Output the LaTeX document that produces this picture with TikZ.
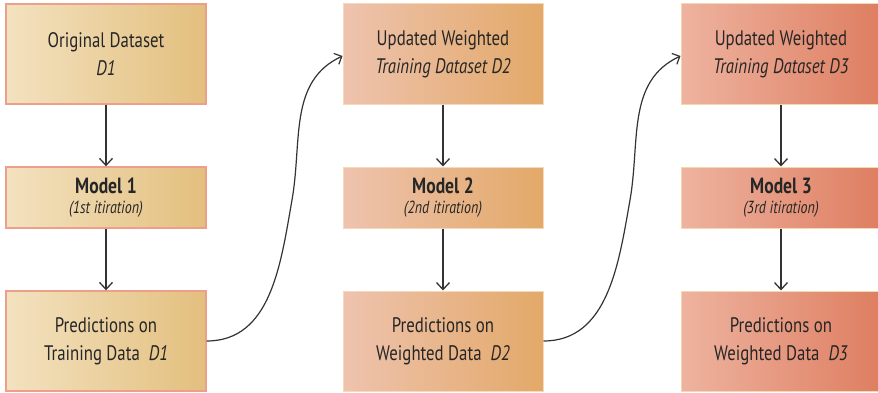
\documentclass[tikz,border=0pt]{standalone}
\usepackage{fontspec}
\setmainfont{PT Sans}[FakeStretch=0.8]
\usetikzlibrary{arrows.meta}
\definecolor{txt}{HTML}{262626}
\definecolor{aL}{HTML}{F3E2C0}\definecolor{aR}{HTML}{E3BF7E}\definecolor{aB}{HTML}{EE9F8A}
\definecolor{bL}{HTML}{EEC3AE}\definecolor{bR}{HTML}{E3A969}\definecolor{bB}{HTML}{F5D9BA}
\definecolor{cL}{HTML}{EEB39F}\definecolor{cR}{HTML}{DE7E61}\definecolor{cB}{HTML}{F2D8B0}
\definecolor{ln}{HTML}{333333}
\newcommand{\mtitle}[1]{{\fontsize{22}{24}\selectfont\bfseries #1}}
\newcommand{\miter}[1]{{\fontsize{17.5}{18}\selectfont\itshape #1}}
\begin{document}
\begin{tikzpicture}[x=1pt,y=1pt,
  bigbox/.style={minimum width=200pt,minimum height=100pt,inner sep=0pt,align=center,text=txt,
    font=\fontsize{21}{28}\selectfont},
  modelbox/.style={minimum width=200pt,minimum height=61pt,inner sep=0pt,align=center,text=txt,
    font=\fontsize{17}{20}\selectfont},
  colA/.style={draw=aB,line width=1.4pt,left color=aL,right color=aR},
  colB/.style={draw=bB,line width=1pt,left color=bL,right color=bR},
  colC/.style={draw=cB,line width=1pt,left color=cL,right color=cR},
  flow/.style={draw=ln,line width=1.3pt,-{Straight Barb[length=7pt,width=13pt,line width=1.3pt]}},
  loop/.style={draw=ln,line width=1.2pt,-{Straight Barb[length=6pt,width=12pt,line width=1.2pt]}},
]
\useasboundingbox (0,0) rectangle (878,392);
% column 1
\node[bigbox,colA] (t1) at (106,338) {Original Dataset\\\textit{D1}};
\node[modelbox,colA] (m1) at (106,194.5) {\mtitle{Model 1}\\\miter{(1st\ itiration)}};
\node[bigbox,colA] (p1) at (106,51) {Predictions on\\Training Data\ \ \textit{D1}};
% column 2
\node[bigbox,colB] (t2) at (443,338) {Updated Weighted\\\textit{Training Dataset D2}};
\node[modelbox,colB] (m2) at (443,194.5) {\mtitle{Model 2}\\\miter{(2nd itiration)}};
\node[bigbox,colB] (p2) at (443,51) {Predictions on\\Weighted Data\ \ \textit{D2}};
% column 3
\node[bigbox,colC] (t3) at (781,338) {Updated Weighted\\\textit{Training Dataset D3}};
\node[modelbox,colC] (m3) at (781,194.5) {\mtitle{Model 3}\\\miter{(3rd\ itiration)}};
\node[bigbox,colC] (p3) at (781,51) {Predictions on\\Weighted Data\ \ \textit{D3}};
% vertical arrows
\draw[flow] (t1) -- (m1);
\draw[flow] (m1) -- (p1);
\draw[flow] (t2) -- (m2);
\draw[flow] (m2) -- (p2);
\draw[flow] (t3) -- (m3);
\draw[flow] (m3) -- (p3);
% loop curves
\coordinate (c1) at (292,192);
\coordinate (c2) at (630,192);
\draw[loop] (p1.east) to[out=0,in=-100] (c1) to[out=80,in=205] ([yshift=-2pt]t2.west);
\draw[loop] (p2.east) to[out=0,in=-100] (c2) to[out=80,in=205] ([yshift=-2pt]t3.west);
\end{tikzpicture}
\end{document}
